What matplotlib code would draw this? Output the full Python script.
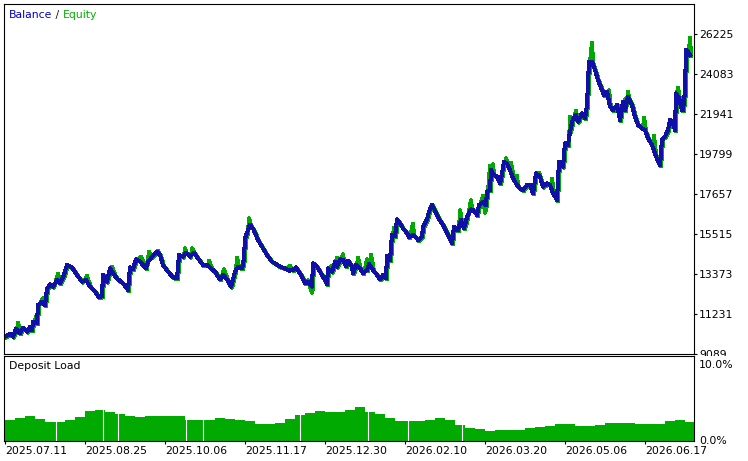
import numpy as np
import pandas as pd
import matplotlib
matplotlib.use("Agg")
import matplotlib.pyplot as plt
import matplotlib.transforms as mtransforms
from matplotlib.patches import Rectangle

# balance curve (trade number -> balance)
bal_t = [0, 5, 8, 11, 15, 18, 22, 25, 27, 28, 32, 33, 37, 40, 42, 45, 48, 52, 55, 58,
         62, 67, 72, 77, 81, 85, 90, 94, 97, 98, 102, 105, 110, 113, 118, 123, 125, 128, 131, 135,
         141, 143, 147, 152, 155, 158, 163, 168, 172, 174, 178, 181, 185, 189, 193, 198, 202, 207, 210, 215,
         218, 222, 226, 230, 233, 237, 239, 240, 242, 245, 248, 253, 258, 262, 267, 270, 275, 280, 284, 288,
         291, 295, 300, 303, 307, 308, 312, 317, 322, 323, 327, 330, 332, 335, 338, 341, 343, 347, 348, 351,
         355, 358, 362, 364, 368, 372, 375, 378, 381, 382, 385, 387, 390, 392, 395, 398, 402, 404, 408, 411,
         413, 417, 418, 422, 424, 427, 429, 433, 438, 443, 447, 449, 453, 456, 459, 462, 466, 468, 472, 474,
         478, 481, 482, 485, 486, 488, 492, 495, 497, 499, 502, 505, 508, 512, 515, 518, 522, 525, 528, 531,
         535, 538, 542, 545, 548, 552, 554, 558, 560, 563, 565, 568, 571, 573, 577, 580, 582, 584, 587, 590,
         593, 597, 599, 602, 605, 608, 612, 615, 618, 620, 623, 627, 630, 633, 637, 640, 643, 647, 650, 653,
         655, 657, 660, 663, 665, 668, 670, 671, 674, 677, 678, 680, 681, 683, 685]
bal_v = [10015, 10160, 10015, 10428, 10214, 10497, 10283, 10551, 10374, 10819, 10733, 11713, 11890, 11713, 12554, 12821, 12693, 13052, 12875, 13196,
         13855, 13732, 13319, 12961, 13052, 12693, 12425, 12125, 12195, 13319, 12961, 13678, 13266, 13089, 12875, 12516, 13732, 13625, 14160, 14032,
         13678, 14032, 14299, 14567, 14390, 13855, 13496, 13196, 13143, 14390, 14299, 14514, 14299, 14514, 14214, 13855, 13855, 13625, 13496, 13089,
         13319, 13089, 12693, 13496, 13764, 13678, 14214, 15285, 15585, 15997, 15820, 15194, 14749, 14390, 14032, 13946, 13764, 13678, 13550, 13587,
         13732, 13411, 12875, 12961, 12693, 13946, 13764, 13319, 12838, 13678, 13496, 14032, 13764, 14160, 14123, 13801, 14085, 13764, 13411, 13855,
         13678, 13411, 13587, 13909, 13587, 13319, 13089, 13319, 13143, 14337, 14123, 15461, 15408, 16302, 16088, 15820, 15552, 15338, 15461, 15338,
         15194, 15370, 15906, 16302, 16709, 17068, 16891, 16409, 15997, 15461, 15017, 15906, 15729, 16265, 15820, 16409, 16838, 16800, 16532, 17068,
         17245, 17068, 17780, 17871, 18942, 18728, 18583, 18230, 18765, 19387, 19301, 18942, 18498, 18139, 17962, 17871, 18139, 18139, 17694, 18765,
         18583, 18048, 18230, 18139, 17694, 17336, 19387, 19119, 20372, 20281, 20993, 21711, 21887, 21529, 21978, 21711, 22423, 24742, 24742, 24297,
         23762, 23226, 22958, 23135, 22332, 22155, 22423, 21620, 22600, 22155, 22867, 22423, 21796, 21352, 21175, 21084, 20640, 20281, 19836, 19387,
         19210, 20549, 20725, 21084, 21620, 21443, 21084, 23049, 22782, 22155, 22155, 23135, 25368, 25277, 25100]

# equity excursions away from balance
eq_spike_t = [12, 30, 37, 52, 81, 106, 135, 143, 152, 179, 186, 203, 218, 231, 243, 284, 302, 306, 326, 331,
              337, 352, 361, 365, 388, 407, 454, 465, 477, 479, 484, 487, 500, 505, 511, 533, 546, 564, 570, 586,
              603, 619, 622, 638, 648, 658, 672, 684]
eq_spike_v = [10819, 11124, 12125, 13443, 13319, 13801, 14353, 14605, 14658, 14803, 14803, 14123, 13678, 14299, 16409, 13855, 13089, 12425, 13855, 14299,
              14481, 14299, 14214, 14444, 15906, 16120, 16838, 17373, 17603, 16709, 19210, 19301, 19622, 19387, 18674, 18851, 18530, 21834, 22155, 25813,
              23264, 22782, 23173, 21796, 20816, 20725, 23403, 26080]

# deposit load, one bar per 10 trades (%)
load_v = [2.5, 2.75, 2.9, 2.55, 2.25, 2.2, 2.45, 2.8, 3.5, 3.6, 3.4, 3.2, 2.9, 2.85, 3.0, 2.9, 3.0, 2.9, 2.5, 2.5,
          2.5, 2.7, 2.6, 2.5, 2.3, 2.0, 1.95, 2.15, 2.6, 3.1, 3.25, 3.5, 3.4, 3.45, 3.7, 3.95, 3.4, 3.15, 2.7, 2.35,
          2.3, 2.3, 2.5, 2.7, 2.5, 1.9, 1.5, 1.4, 1.2, 1.25, 1.3, 1.3, 1.55, 1.6, 1.75, 2.05, 2.0, 1.75, 1.75, 1.9,
          2.1, 2.1, 2.1, 2.0, 2.0, 2.0, 2.35, 2.45, 2.2]
load_gaps = [51, 98, 113, 181, 198, 295, 363, 403, 457]

bal_ticks = [9089, 11231, 13373, 15515, 17657, 19799, 21941, 24083, 26225]
date_labels = ["2025.07.11", "2025.08.25", "2025.10.06", "2025.11.17", "2025.12.30",
               "2026.02.10", "2026.03.20", "2026.05.06", "2026.06.17"]
date_ticks = [0, 80, 160, 240, 320, 400, 480, 560, 640]

BLUE = "#1010A8"
GREEN = "#00AA00"
FS = 7.8

W, H = 748, 461
fig = plt.figure(figsize=(W / 100, H / 100), dpi=100)
ax1 = fig.add_axes([4 / W, (H - 354) / H, 690 / W, 350 / H], zorder=0)
ax2 = fig.add_axes([4 / W, (H - 441) / H, 690 / W, 85 / H], zorder=2)

bal = pd.Series(bal_v, index=bal_t, dtype=float)
eq = pd.Series(eq_spike_v, index=eq_spike_t, dtype=float).combine_first(bal).sort_index()

shadow = ax1.transData + mtransforms.ScaledTranslation(1 / 100, -1 / 100, fig.dpi_scale_trans)
ax1.plot(eq.index, eq.values, color=GREEN, lw=2.2, transform=shadow, antialiased=False)
ax1.plot(bal.index, bal.values, color=BLUE, lw=2.2, antialiased=False)

ax1.set_xlim(-1, 689)
ax1.set_ylim(9089, 27831)
ax1.set_xticks([])
ax1.set_yticks(bal_ticks)
ax1.set_yticklabels([str(v) for v in bal_ticks])
ax1.yaxis.tick_right()
ax1.tick_params(axis="y", direction="out", length=2.2, width=0.8, pad=1.6, labelsize=FS)
for s in ax1.spines.values():
    s.set_linewidth(0.8)

t1 = ax1.text(5 / 690, (354 - 15) / 350, "Balance", color="#0000C0", fontsize=FS,
              va="center", transform=ax1.transAxes)
t2 = ax1.annotate(" / ", xy=(1, 0), xycoords=t1, va="bottom", fontsize=FS, color="#202020")
ax1.annotate("Equity", xy=(1, 0), xycoords=t2, va="bottom", fontsize=FS, color="#00B000")

# hide the lower half of the bottom balance label, like the terminal does
fig.patches.append(Rectangle((695 / W, (H - 366) / H), 53 / W, 10 / H, transform=fig.transFigure,
                             facecolor="white", edgecolor="none", zorder=1))

load_x = np.arange(len(load_v)) * 10
ax2.bar(load_x, load_v, width=10, align="edge", color=GREEN, linewidth=0)
ax2.vlines(load_gaps, 0, 10, color="white", lw=0.8)
ax2.set_xlim(-1, 689)
ax2.set_ylim(0, 10)
ax2.set_yticks([])
ax2.set_xticks(date_ticks)
ax2.set_xticklabels(date_labels)
ax2.tick_params(axis="x", direction="out", length=2.2, width=0.8, pad=1.2, labelsize=FS)
plt.setp(ax2.get_xticklabels(), ha="left")
for s in ax2.spines.values():
    s.set_linewidth(0.8)
ax2.text(5 / 690, (441 - 366) / 85, "Deposit Load", fontsize=FS, va="center", transform=ax2.transAxes)
ax2.text(1 + 5 / 690, (441 - 365) / 85, "10.0%", fontsize=FS, va="center", transform=ax2.transAxes)
ax2.text(1 + 5 / 690, 0.0, "0.0%", fontsize=FS, va="center", transform=ax2.transAxes)

fig.savefig("out.png", dpi=100, facecolor="white")
